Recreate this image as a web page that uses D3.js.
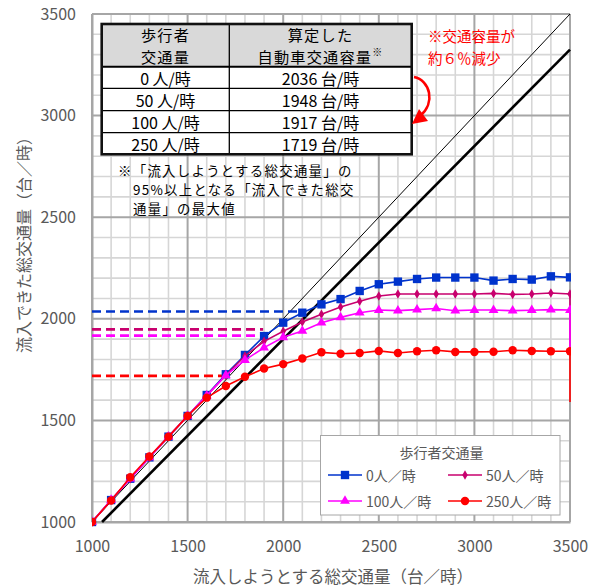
<!DOCTYPE html>
<html lang="ja">
<head>
<meta charset="utf-8">
<script src="https://cdn.jsdelivr.net/npm/d3@7/dist/d3.min.js"></script>
<style>
  html, body { margin: 0; padding: 0; background: #fff; }
  svg { display: block; font-family: "Noto Sans CJK JP", "Noto Sans", sans-serif; }
</style>
</head>
<body>
<svg id="chart" width="597" height="588"></svg>
<script>
// Demand volume (veh/h) at which each run was made
const demand = [1000, 1100, 1200, 1300, 1400, 1500, 1600, 1700, 1800, 1900, 2000, 2100, 2200,
                2300, 2400, 2500, 2600, 2700, 2800, 2900, 3000, 3100, 3200, 3300, 3400, 3500];

// Throughput (veh/h) for each pedestrian volume
const ped0 = [1000, 1108, 1213, 1318, 1420, 1522, 1625, 1727, 1822, 1915, 1981, 2030, 2071,
              2097, 2137, 2170, 2183, 2196, 2203, 2203, 2203, 2188, 2196, 2193, 2209, 2204];
const ped50 = [1000, 1108, 1213, 1318, 1420, 1522, 1622, 1722, 1817, 1889, 1939, 1984, 2022,
               2058, 2086, 2112, 2122, 2122, 2122, 2122, 2122, 2125, 2120, 2122, 2127, 2122];
const ped100 = [1000, 1108, 1213, 1318, 1420, 1522, 1622, 1722, 1797, 1858, 1909, 1940, 1981,
                2007, 2030, 2043, 2040, 2045, 2051, 2040, 2043, 2043, 2040, 2042, 2045, 2043];
const ped250 = [1000, 1106, 1220, 1322, 1420, 1522, 1612, 1669, 1715, 1755, 1777, 1805, 1835,
                1828, 1832, 1842, 1832, 1840, 1845, 1837, 1837, 1838, 1845, 1842, 1840, 1840];
// Closing value each series drops to at the last demand step (null = no drop)
const tailValues = [null, 1845, 1845, 1590];

const seriesNames = ["0人／時", "50人／時", "100人／時", "250人／時"];
const seriesData = [ped0, ped50, ped100, ped250];

// Table: pedestrian volume and computed capacity
const tablePed = ["0 人/時", "50 人/時", "100 人/時", "250 人/時"];
const capacity = [2036, 1948, 1917, 1719];
// Demand at which each capacity guide line stops
const guideEnd = [2095, 1895, 1895, 1718];

const xTicks = [1000, 1500, 2000, 2500, 3000, 3500];
const yTicks = [1000, 1500, 2000, 2500, 3000, 3500];
const ratio95 = 0.95;

// ---- styling ----
const colors = ["#0033cc", "#c8006e", "#ff00ff", "#ff0000"];
const markers = ["square", "diamond", "triangle", "circle"];
const gray = "#595959";

const svg = d3.select("#chart");
const plot = { left: 92, top: 14, right: 570, bottom: 522 };

const x = d3.scaleLinear().domain([1000, 3500]).range([plot.left, plot.right]);
const y = d3.scaleLinear().domain([1000, 3500]).range([plot.bottom, plot.top]);

svg.append("defs").append("clipPath").attr("id", "plotClip")
  .append("rect").attr("x", plot.left).attr("y", plot.top - 5)
  .attr("width", plot.right - plot.left + 1).attr("height", plot.bottom - plot.top + 10);

// ---- grid ----
const minor = d3.range(1000, 3501, 100);
const grid = svg.append("g");
grid.selectAll(".vmin").data(minor.filter(v => v % 500 !== 0)).join("line")
  .attr("x1", d => x(d)).attr("x2", d => x(d)).attr("y1", plot.top).attr("y2", plot.bottom)
  .attr("stroke", "#d6d6d6").attr("stroke-width", 1.6);
grid.selectAll(".hmin").data(minor.filter(v => v % 500 !== 0)).join("line")
  .attr("y1", d => y(d)).attr("y2", d => y(d)).attr("x1", plot.left).attr("x2", plot.right)
  .attr("stroke", "#d6d6d6").attr("stroke-width", 1.6);
grid.selectAll(".vmaj").data(xTicks).join("line")
  .attr("x1", d => x(d)).attr("x2", d => x(d)).attr("y1", plot.top).attr("y2", plot.bottom)
  .attr("stroke", "#a6a6a6").attr("stroke-width", 2);
grid.selectAll(".hmaj").data(yTicks).join("line")
  .attr("y1", d => y(d)).attr("y2", d => y(d)).attr("x1", plot.left).attr("x2", plot.right)
  .attr("stroke", "#a6a6a6").attr("stroke-width", 2);

// ---- axes ----
const xAxis = svg.append("g").attr("transform", `translate(0,${plot.bottom})`)
  .call(d3.axisBottom(x).tickValues(xTicks).tickSize(0).tickPadding(19).tickFormat(d3.format("d")));
const yAxis = svg.append("g").attr("transform", `translate(${plot.left},0)`)
  .call(d3.axisLeft(y).tickValues(yTicks).tickSize(0).tickPadding(16).tickFormat(d3.format("d")));
[xAxis, yAxis].forEach(a => {
  a.select(".domain").attr("stroke", "#a6a6a6").attr("stroke-width", 2);
  a.selectAll("text").attr("fill", gray).attr("font-size", 16)
    .attr("font-family", "'Noto Sans CJK JP', sans-serif");
});

svg.append("text").attr("x", 333).attr("y", 576).attr("text-anchor", "middle")
  .attr("dominant-baseline", "central").attr("fill", gray).attr("font-size", 16.5)
  .text("流入しようとする総交通量（台／時）");
svg.append("text").attr("transform", "translate(23,241) rotate(-90)").attr("text-anchor", "middle")
  .attr("dominant-baseline", "central").attr("fill", gray).attr("font-size", 16)
  .text("流入できた総交通量（台／時）");

// ---- reference lines: 100% and 95% of demand ----
const refs = svg.append("g").attr("clip-path", "url(#plotClip)");
refs.append("line")
  .attr("x1", x(1000)).attr("y1", y(1000)).attr("x2", x(3500)).attr("y2", y(3500))
  .attr("stroke", "#000").attr("stroke-width", 1);
refs.append("line")
  .attr("x1", x(1000 / ratio95)).attr("y1", y(1000)).attr("x2", x(3500)).attr("y2", y(3500 * ratio95))
  .attr("stroke", "#000").attr("stroke-width", 2.6);

// ---- capacity guide lines ----
svg.append("g").selectAll("line").data(capacity).join("line")
  .attr("x1", x(1000)).attr("x2", (d, i) => x(guideEnd[i]))
  .attr("y1", d => y(d)).attr("y2", d => y(d))
  .attr("stroke", (d, i) => colors[i]).attr("stroke-width", 2.6)
  .attr("stroke-dasharray", "9,5");

// ---- series ----
const line = d3.line().x(d => x(d[0])).y(d => y(d[1]));
const symbolOf = {
  square: d3.symbolSquare, diamond: d3.symbolDiamond,
  triangle: d3.symbolTriangle, circle: d3.symbolCircle
};
const sizeOf = { square: 70, diamond: 26, triangle: 42, circle: 56 };

const seriesG = svg.append("g").attr("clip-path", "url(#plotClip)");
seriesData.forEach((vals, i) => {
  const pts = demand.map((d, j) => [d, vals[j]]);
  const path = tailValues[i] === null ? pts : pts.concat([[demand[demand.length - 1], tailValues[i]]]);
  seriesG.append("path").attr("d", line(path)).attr("fill", "none")
    .attr("stroke", colors[i]).attr("stroke-width", 1.6);
  seriesG.append("g").selectAll("path").data(pts).join("path")
    .attr("transform", d => `translate(${x(d[0])},${y(d[1])})`)
    .attr("d", d3.symbol().type(symbolOf[markers[i]]).size(sizeOf[markers[i]]))
    .attr("fill", colors[i]);
});

// ---- capacity table ----
const tbl = { left: 101.7, mid: 229.3, right: 411.7 };
const rowEdges = [24, 66.7, 88.3, 110.7, 132.7, 154.3];
const tg = svg.append("g");
tg.append("rect").attr("x", tbl.left).attr("y", rowEdges[0])
  .attr("width", tbl.right - tbl.left).attr("height", rowEdges[1] - rowEdges[0]).attr("fill", "#d9d9d9");
tg.append("rect").attr("x", tbl.left).attr("y", rowEdges[1])
  .attr("width", tbl.right - tbl.left).attr("height", rowEdges[5] - rowEdges[1]).attr("fill", "#fff");
tg.selectAll(".rowline").data(rowEdges.slice(1, 5)).join("line")
  .attr("x1", tbl.left).attr("x2", tbl.right).attr("y1", d => d).attr("y2", d => d)
  .attr("stroke", "#000").attr("stroke-width", (d, i) => i === 0 ? 2 : 1.3);
tg.append("line").attr("x1", tbl.mid).attr("x2", tbl.mid).attr("y1", rowEdges[0]).attr("y2", rowEdges[5])
  .attr("stroke", "#000").attr("stroke-width", 1.3);
tg.append("rect").attr("x", tbl.left).attr("y", rowEdges[0])
  .attr("width", tbl.right - tbl.left).attr("height", rowEdges[5] - rowEdges[0])
  .attr("fill", "none").attr("stroke", "#111").attr("stroke-width", 2.6);

const c1 = (tbl.left + tbl.mid) / 2, c2 = (tbl.mid + tbl.right) / 2;
const headFont = 15.2, headLs = 1.2, bodyFont = 16;
[["歩行者", 34.4], ["交通量", 56]].forEach(([t, yy]) =>
  tg.append("text").attr("x", c1).attr("y", yy).attr("text-anchor", "middle")
    .attr("dominant-baseline", "central").attr("font-size", headFont).attr("letter-spacing", headLs)
    .attr("fill", "#000").text(t));
tg.append("text").attr("x", c2).attr("y", 34.4).attr("text-anchor", "middle")
  .attr("dominant-baseline", "central").attr("font-size", headFont).attr("letter-spacing", headLs)
  .attr("fill", "#000").text("算定した");
const h2 = tg.append("text").attr("x", c2).attr("y", 56).attr("text-anchor", "middle")
  .attr("dominant-baseline", "central").attr("font-size", headFont).attr("letter-spacing", headLs)
  .attr("fill", "#000");
h2.append("tspan").text("自動車交通容量");
h2.append("tspan").attr("font-size", 10).attr("dy", -5).text("※");

tablePed.forEach((p, i) => {
  const yy = (rowEdges[i + 1] + rowEdges[i + 2]) / 2;
  tg.append("text").attr("x", c1).attr("y", yy).attr("text-anchor", "middle")
    .attr("dominant-baseline", "central").attr("font-size", bodyFont).attr("fill", "#000").text(p);
  tg.append("text").attr("x", c2).attr("y", yy).attr("text-anchor", "middle")
    .attr("dominant-baseline", "central").attr("font-size", bodyFont).attr("fill", "#000")
    .text(`${capacity[i]} 台/時`);
});

// footnote under the table
const notes = [["※「流入しようとする総交通量」の", 118, 170], ["95%以上となる「流入できた総交", 133, 189],
               ["通量」の最大値", 133, 208]];
notes.forEach(([t, xx, yy]) =>
  svg.append("text").attr("x", xx).attr("y", yy).attr("dominant-baseline", "central")
    .attr("font-size", 13.4).attr("letter-spacing", 1.3).attr("fill", "#000").text(t));

// ---- red annotation ----
[["※交通容量が", 35], ["約６％減少", 57]].forEach(([t, yy]) =>
  svg.append("text").attr("x", 428).attr("y", yy).attr("dominant-baseline", "central")
    .attr("font-size", 14.5).attr("fill", "#ff0000").text(t));
svg.append("path").attr("d", "M414,77 C430,80 436,103 420,116")
  .attr("fill", "none").attr("stroke", "#ff0000").attr("stroke-width", 2.6);
svg.append("path").attr("d", "M412,124 L419,109 L428,121 Z").attr("fill", "#ff0000");

// ---- legend ----
const lg = svg.append("g");
lg.append("rect").attr("x", 320.5).attr("y", 435.5).attr("width", 239.5).attr("height", 79.5)
  .attr("fill", "#fff").attr("stroke", "#a6a6a6").attr("stroke-width", 1);
lg.append("text").attr("x", 441.5).attr("y", 452).attr("text-anchor", "middle")
  .attr("dominant-baseline", "central").attr("font-size", 14).attr("fill", gray).text("歩行者交通量");
const legPos = [[328, 475], [448, 475], [328, 501], [448, 501]];
seriesNames.forEach((n, i) => {
  const [lx, ly] = legPos[i];
  lg.append("line").attr("x1", lx).attr("x2", lx + 34).attr("y1", ly).attr("y2", ly)
    .attr("stroke", colors[i]).attr("stroke-width", 1.6);
  lg.append("path").attr("transform", `translate(${lx + 17},${ly})`)
    .attr("d", d3.symbol().type(symbolOf[markers[i]]).size(sizeOf[markers[i]])).attr("fill", colors[i]);
  lg.append("text").attr("x", lx + 38).attr("y", ly).attr("dominant-baseline", "central")
    .attr("font-size", 14).attr("fill", gray).text(n);
});
</script>
</body>
</html>
